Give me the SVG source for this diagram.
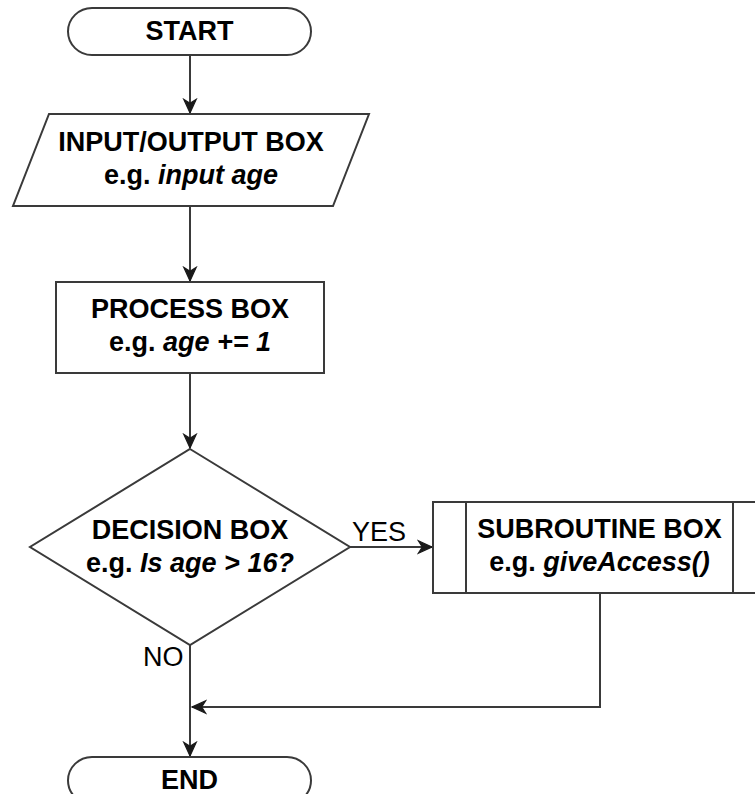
<svg xmlns="http://www.w3.org/2000/svg" width="755" height="794" viewBox="0 0 755 794">
  <style>
    .shape { fill: #ffffff; stroke: #3a3a3a; stroke-width: 2; }
    .edge { fill: none; stroke: #3a3a3a; stroke-width: 2; }
    .title { font-family: "Liberation Sans", Arial, sans-serif; font-size: 27px; font-weight: bold; fill: #000000; text-anchor: middle; }
    .label { font-family: "Liberation Sans", Arial, sans-serif; font-size: 27px; fill: #000000; }
    .it { font-style: italic; }
  </style>
  <defs>
    <marker id="arrow" markerUnits="userSpaceOnUse" markerWidth="16" markerHeight="16" viewBox="-13 -7 14 14" refX="0" refY="0" orient="auto">
      <path d="M0,0 L-12,-5.5 L-8.5,0 L-12,5.5 Z" fill="#1a1a1a" stroke="#1a1a1a" stroke-width="1" stroke-linejoin="miter"/>
    </marker>
  </defs>

  <!-- connectors -->
  <g id="connectors">
    <path class="edge" d="M190,55 L190,113" marker-end="url(#arrow)"/>
    <path class="edge" d="M190,206 L190,281" marker-end="url(#arrow)"/>
    <path class="edge" d="M190,373 L190,448" marker-end="url(#arrow)"/>
    <path class="edge" d="M350,547 L432,547" marker-end="url(#arrow)"/>
    <path class="edge" d="M190,645 L190,756" marker-end="url(#arrow)"/>
    <path class="edge" d="M600,593 L600,707 L192,707" marker-end="url(#arrow)"/>
    <text class="label" x="352" y="541">YES</text>
    <text class="label" x="143" y="666">NO</text>
  </g>

  <!-- start terminator -->
  <g id="start">
    <rect class="shape" x="68" y="8" width="243" height="47" rx="24" ry="23.5"/>
    <text class="title" x="189.5" y="40">START</text>
  </g>

  <!-- input / output parallelogram -->
  <g id="io">
    <path class="shape" d="M49,114 L369,114 L333,206 L13,206 Z"/>
    <text class="title" x="191" y="151">INPUT/OUTPUT BOX</text>
    <text class="title" x="191" y="184">e.g. <tspan class="it">input age</tspan></text>
  </g>

  <!-- process rectangle -->
  <g id="process">
    <rect class="shape" x="56" y="282" width="268" height="91"/>
    <text class="title" x="190" y="318">PROCESS BOX</text>
    <text class="title" x="190" y="351">e.g. <tspan class="it">age += 1</tspan></text>
  </g>

  <!-- decision diamond -->
  <g id="decision">
    <path class="shape" d="M190,449 L350,547 L190,645 L30,547 Z"/>
    <text class="title" x="190" y="539">DECISION BOX</text>
    <text class="title" x="190" y="572">e.g. <tspan class="it">Is age &gt; 16?</tspan></text>
  </g>

  <!-- subroutine box -->
  <g id="subroutine">
    <rect class="shape" x="433" y="502" width="333" height="91"/>
    <line class="edge" x1="466" y1="502" x2="466" y2="593"/>
    <line class="edge" x1="733" y1="502" x2="733" y2="593"/>
    <text class="title" x="599.5" y="538">SUBROUTINE BOX</text>
    <text class="title" x="599.5" y="571">e.g. <tspan class="it">giveAccess()</tspan></text>
  </g>

  <!-- end terminator -->
  <g id="end">
    <rect class="shape" x="68" y="757" width="243" height="47" rx="24" ry="23.5"/>
    <text class="title" x="189.5" y="789">END</text>
  </g>
</svg>
